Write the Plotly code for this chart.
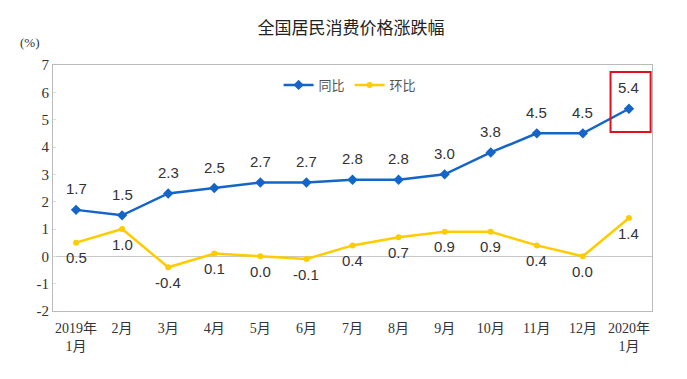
import plotly.graph_objects as go

months = ["2019年<br>1月", "2月", "3月", "4月", "5月", "6月", "7月", "8月", "9月", "10月", "11月", "12月", "2020年<br>1月"]
yoy = [1.7, 1.5, 2.3, 2.5, 2.7, 2.7, 2.8, 2.8, 3.0, 3.8, 4.5, 4.5, 5.4]
mom = [0.5, 1.0, -0.4, 0.1, 0.0, -0.1, 0.4, 0.7, 0.9, 0.9, 0.4, 0.0, 1.4]
y_ticks = [-2, -1, 0, 1, 2, 3, 4, 5, 6, 7]
yoy_name = "同比"
mom_name = "环比"
title = "全国居民消费价格涨跌幅"

xs = list(range(len(months)))
lab_font = dict(family="Liberation Sans, Noto Sans CJK SC", size=15, color="#333333")
BLUE = "#1565C8"
YELLOW = "#FFCC00"

fig = go.Figure()
fig.add_trace(go.Scatter(
    x=xs, y=yoy, name=yoy_name, mode="lines+markers",
    line=dict(color=BLUE, width=2.5),
    marker=dict(symbol="diamond", size=8, color=BLUE),
))
fig.add_trace(go.Scatter(
    x=xs, y=mom, name=mom_name, mode="lines+markers",
    line=dict(color=YELLOW, width=2.5),
    marker=dict(symbol="circle", size=6, color=YELLOW),
))
for x, v in zip(xs, yoy):
    fig.add_annotation(x=x, y=v, text=f"{v:.1f}", showarrow=False, yshift=21,
                       xanchor="center", yanchor="middle", font=lab_font)
for x, v in zip(xs, mom):
    fig.add_annotation(x=x, y=v, text=f"{v:.1f}", showarrow=False, yshift=-15,
                       xanchor="center", yanchor="middle", font=lab_font)

fig.add_shape(type="rect", xref="x", yref="y", x0=11.6, x1=12.47, y0=4.55, y1=6.74,
              line=dict(color="#E0101E", width=2))

fig.update_layout(
    width=679, height=371,
    margin=dict(l=45, r=35, t=57, b=68),
    paper_bgcolor="white", plot_bgcolor="white",
    title=dict(text=title, x=0.505, xanchor="center", y=0.946, yanchor="middle",
               font=dict(family="Noto Sans CJK SC", size=17, color="#222222")),
    legend=dict(orientation="h", x=0.496, xanchor="center", y=0.919, yanchor="middle",
                font=dict(family="Noto Sans CJK SC", size=13, color="#555555"),
                bgcolor="rgba(0,0,0,0)"),
    showlegend=True,
)
fig.update_xaxes(
    tickmode="array", tickvals=xs, ticktext=months, range=[-0.5, 12.5],
    showgrid=False, zeroline=False, showline=True, linecolor="#BBBBBB", mirror=True,
    tickfont=dict(family="Liberation Serif, Noto Sans CJK SC", size=14, color="#333333"),
    ticks="", automargin=False, ticklabelstandoff=4,
)
fig.update_yaxes(
    range=[-2, 7], tickmode="array", tickvals=y_ticks, ticktext=[str(t) for t in y_ticks],
    showgrid=False, zeroline=True, zerolinecolor="#C8C8C8", zerolinewidth=1,
    showline=True, linecolor="#BBBBBB", mirror=True,
    tickfont=dict(family="Liberation Serif", size=15, color="#333333"),
    ticks="inside", ticklen=3, tickcolor="#DDDDDD", automargin=False,
)
fig.add_annotation(text="(%)", xref="paper", yref="paper", x=-0.038, y=1.093, showarrow=False,
                   xanchor="center", yanchor="middle",
                   font=dict(family="Liberation Serif", size=13, color="#333333"))

fig.write_html("out.html")
